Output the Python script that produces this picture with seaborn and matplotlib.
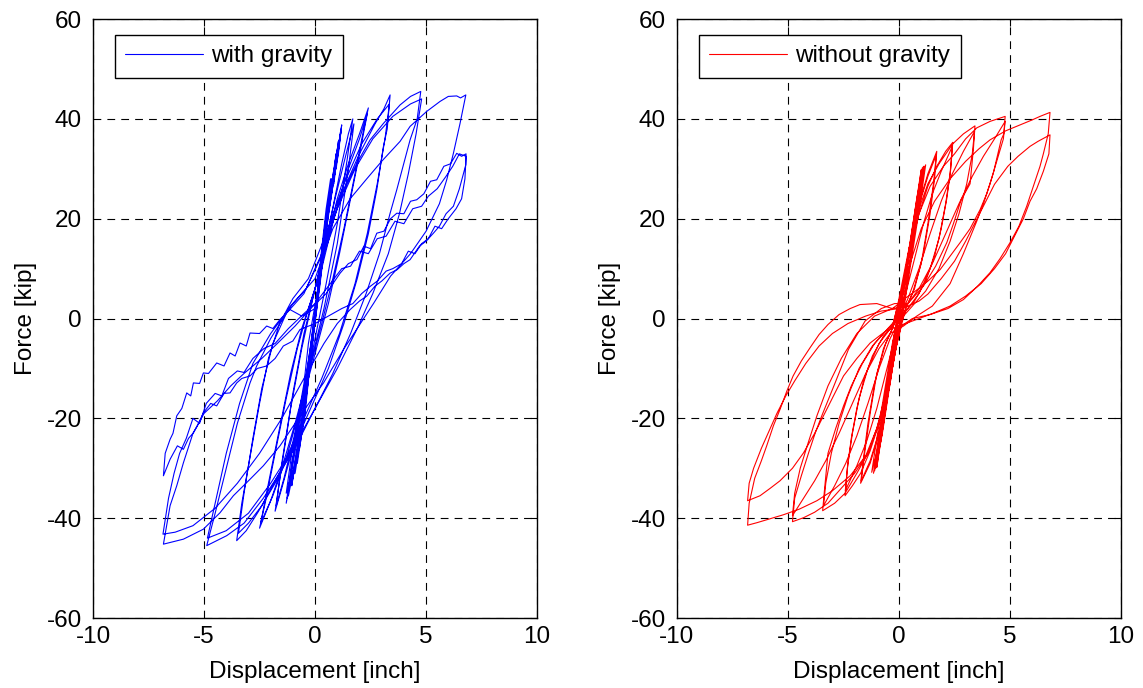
import numpy as np
import pandas as pd
import matplotlib
matplotlib.use("Agg")
import matplotlib.pyplot as plt
import seaborn as sns

# Hysteresis vertices: (displacement [inch], force [kip])
# --- with gravity (blue) ---
GRAV_ELASTIC = [
    (0, 0), (0.25, 12), (0.5, 22), (0.7, 28), (0.8, 27), (0.95, 33), (0.75, 26), (0.4, 17),
    (0.1, 5), (-0.2, -8), (-0.45, -19), (-0.7, -26), (-0.75, -25), (-0.95, -31), (-0.75, -25),
    (-0.35, -14), (-0.05, -2),
    (0.2, 9), (0.45, 19), (0.75, 28), (0.85, 27), (1.05, 35.5), (0.85, 29), (0.5, 19), (0.15, 6),
    (-0.2, -8), (-0.5, -20), (-0.8, -29), (-0.85, -28), (-1.05, -33.5), (-0.85, -27),
    (-0.4, -15), (-0.05, -1),
    (0.25, 11), (0.55, 21), (0.85, 30), (0.9, 29), (1.15, 37.5), (0.95, 31), (0.55, 20),
    (0.2, 7), (-0.2, -7), (-0.55, -21), (-0.9, -31), (-0.95, -30), (-1.2, -35.5), (-0.95, -28),
    (-0.45, -15), (-0.1, -2),
    (0.25, 10), (0.6, 22), (0.9, 31), (0.95, 30), (1.2, 38.8), (1.0, 32), (0.6, 21), (0.2, 6),
    (-0.25, -9), (-0.6, -22), (-1.0, -32), (-1.05, -31), (-1.3, -37), (-1.05, -29), (-0.5, -15),
    (-0.1, -2),
    (0.3, 12), (0.65, 24), (0.95, 33), (1.0, 31.5), (1.1, 36), (0.9, 30), (0.5, 18), (0.15, 5),
    (-0.3, -11), (-0.65, -23), (-1.0, -31), (-1.05, -30.5), (-1.25, -36), (-1.0, -28),
    (-0.5, -14), (0, 0),
    (0.3, 11), (0.7, 25), (1.0, 34), (1.05, 33), (1.18, 38), (0.95, 31), (0.55, 19), (0.1, 3),
    (-0.3, -12), (-0.7, -25), (-1.05, -33), (-1.1, -32), (-1.3, -35), (-1.05, -27), (-0.5, -13),
    (-0.3, -5),
]
GRAV_CYC_SMALL = [
    (0.2, 8), (0.7, 20), (1.2, 31), (1.5, 37), (1.7, 40), (1.45, 32), (1.0, 19), (0.5, 7),
    (0.0, -4), (-0.5, -15), (-1.0, -26), (-1.5, -34), (-1.8, -38.6), (-1.55, -31), (-1.1, -18),
    (-0.6, -6), (-0.1, 4),
    (0.4, 14), (0.9, 24), (1.4, 33), (1.75, 39), (1.5, 30), (1.0, 15), (0.4, 2), (-0.2, -9),
    (-0.8, -21), (-1.4, -32), (-1.75, -37.5), (-1.5, -29), (-1.0, -15), (-0.5, -3), (0.0, 6),
    (0.5, 15), (1.0, 24), (1.5, 31), (2.0, 37), (2.4, 42.2), (2.15, 37), (1.8, 29), (1.3, 18),
    (0.8, 8), (0.3, -1), (-0.3, -11), (-0.9, -21), (-1.5, -30), (-2.0, -36.5), (-2.5, -42),
    (-2.2, -36), (-1.8, -27), (-1.3, -16), (-0.8, -6), (-0.3, 2),
    (0.3, 10), (0.9, 21), (1.5, 30), (2.0, 36), (2.35, 41), (2.05, 34), (1.6, 24), (1.1, 13),
    (0.6, 3), (0.0, -7), (-0.6, -17), (-1.3, -28), (-1.9, -35.5), (-2.45, -41), (-2.1, -33),
    (-1.6, -22), (-1.1, -11), (-0.6, -2), (0.0, 6),
]
GRAV_CYC_34 = [
    (0.5, 15), (1.2, 25), (2.0, 33), (2.7, 39), (3.1, 42), (3.38, 44.8), (3.25, 38), (3.08, 34.5),
    (2.78, 25.8), (2.4, 17), (1.9, 8), (1.3, -1), (0.6, -10), (-0.2, -18), (-1.0, -26),
    (-1.8, -33), (-2.6, -39), (-3.1, -42.5), (-3.53, -44.5), (-3.3, -37), (-2.9, -27),
    (-2.5, -17), (-2.1, -8), (-1.6, -1), (-1.0, 4),
    (-0.3, 8), (0.5, 17), (1.3, 27), (2.1, 35), (2.8, 40), (3.35, 43), (3.15, 36), (2.8, 27),
    (2.35, 17), (1.8, 7), (1.1, -3), (0.3, -12), (-0.6, -21), (-1.5, -30), (-2.4, -37.5),
    (-3.0, -41), (-3.45, -43), (-3.2, -35), (-2.8, -24), (-2.4, -14), (-1.9, -5), (-1.2, 2),
]
GRAV_CYC_48 = [
    (-0.4, 6), (0.23, 12), (0.83, 20), (1.28, 25.5), (1.88, 31.1), (2.48, 35.8), (3.08, 39.1),
    (3.83, 42.8), (4.3, 44.5), (4.76, 45.5), (4.6, 40), (4.28, 35.8), (3.68, 25.8), (3.38, 21.1),
    (2.9, 13), (2.3, 5), (1.6, -3), (0.8, -11), (0.0, -18), (-0.8, -25), (-1.6, -31),
    (-2.33, -36), (-3.2, -41), (-3.98, -43.5), (-4.88, -45.5), (-4.5, -39), (-4.0, -30),
    (-3.5, -21), (-2.93, -12.9), (-2.63, -9.5), (-2.0, -4), (-1.3, 1), (-0.5, 5),
    (0.3, 13), (1.0, 22), (1.8, 30), (2.6, 36), (3.5, 40.5), (4.3, 43), (4.8, 44), (4.55, 37),
    (4.2, 29), (3.8, 21), (3.3, 13), (2.6, 5), (1.9, -2), (1.0, -10), (0.0, -18), (-1.0, -26),
    (-2.0, -33), (-3.0, -39), (-4.0, -42.5), (-4.85, -44), (-4.5, -37), (-4.0, -27),
    (-3.4, -17), (-2.8, -9), (-2.0, -3), (-1.0, 3), (0.0, 8),
]
GRAV_CYC_68 = [
    (0.8, 18), (1.58, 24), (2.33, 28), (3.0, 31.5), (3.83, 35.5), (4.28, 38.5), (5.03, 41.5),
    (5.63, 43.5), (6.0, 44.5), (6.38, 44.6), (6.55, 44.2), (6.79, 44.8), (6.53, 39.1),
    (6.23, 33.1), (5.93, 27.8), (5.6, 23), (5.0, 17.5), (4.3, 13), (3.4, 8.5), (2.63, 3),
    (1.28, -6.2), (0.38, -12.9), (-0.6, -19), (-1.58, -25.5), (-2.33, -29.5), (-2.93, -32.2),
    (-3.68, -35.5), (-4.28, -38.9), (-5.03, -42.2), (-5.93, -44.2), (-6.83, -45.2),
    (-6.53, -37.5), (-6.23, -33.5), (-5.93, -28.9), (-5.5, -23), (-5.0, -19), (-4.4, -16.5),
    (-3.8, -13.5), (-3.2, -11), (-2.4, -8), (-1.7, -5), (-0.9, -1.5), (-0.2, 2),
    # second cycle, softened
    (0.5, 5), (1.13, 9.1), (1.5, 11), (1.88, 11.8), (2.2, 14.5), (2.5, 14), (2.78, 17.1),
    (3.1, 17.5), (3.4, 20), (3.68, 21.1), (4.0, 21), (4.3, 23.5), (4.58, 23.8), (4.9, 25),
    (5.2, 27.5), (5.48, 27.8), (5.8, 30.5), (6.1, 31), (6.38, 33.1), (6.6, 32.5), (6.8, 33),
    (6.79, 30.8), (6.5, 26), (6.23, 22.5), (5.9, 21), (5.6, 18.5), (5.33, 17.1), (5.0, 15.5),
    (4.7, 14.5), (4.28, 11.8), (4.0, 11), (3.7, 9.8), (3.38, 9.1), (3.0, 7.5), (2.7, 6.5),
    (2.33, 4.5), (2.0, 3.5), (1.58, 1.8), (1.0, -1), (0.4, -5), (-0.5, -12), (-1.5, -20),
    (-2.5, -27), (-3.5, -33), (-4.5, -38), (-5.5, -41.5), (-6.3, -42.8), (-6.85, -43.2),
    (-6.6, -36), (-6.35, -31), (-6.1, -27), (-5.8, -24), (-5.5, -20), (-5.2, -21), (-4.9, -17),
    (-4.5, -15), (-4.2, -15.5), (-3.9, -12), (-3.5, -10.5), (-3.2, -10.8), (-2.8, -8),
    (-2.3, -6), (-1.8, -5), (-1.2, -2), (-0.5, 1), (0.0, 3),
    # third cycle
    (0.6, 6.5), (1.2, 10), (1.6, 10.5), (2.0, 13.5), (2.4, 13), (2.8, 16), (3.2, 16.5),
    (3.6, 19.5), (4.0, 19), (4.4, 22), (4.8, 22.5), (5.1, 24.5), (5.5, 26), (5.9, 28.5),
    (6.2, 30.5), (6.5, 33), (6.8, 32.5), (6.75, 28), (6.6, 24), (6.35, 22), (6.0, 20),
    (5.7, 18), (5.4, 18.5), (5.1, 16), (4.8, 15), (4.5, 13), (4.2, 13.5), (3.9, 11), (3.5, 10),
    (3.2, 9.5), (2.8, 7.5), (2.5, 6.5), (2.1, 5), (1.7, 3), (1.2, 2), (0.6, 0.5), (0.0, -1),
    (-0.68, -2.2), (-1.0, -4.5), (-1.43, -5.5), (-1.8, -8), (-2.18, -9.5), (-2.6, -10),
    (-2.93, -11.5), (-3.3, -12), (-3.53, -12.9), (-3.83, -14.9), (-4.1, -15), (-4.43, -17.5),
    (-4.7, -17), (-5.03, -18.9), (-5.3, -21.5), (-5.48, -22.9), (-5.7, -24), (-5.93, -26.2),
    (-6.2, -25.5), (-6.53, -28.2), (-6.83, -31.5), (-6.75, -27), (-6.53, -24.2), (-6.4, -23),
    (-6.23, -19.5), (-6.0, -18), (-5.78, -14.9), (-5.6, -15.5), (-5.48, -12.9), (-5.2, -13),
    (-5.03, -10.9), (-4.8, -11), (-4.43, -8.9), (-4.1, -9.5), (-3.83, -6.9), (-3.6, -7.5),
    (-3.38, -4.9), (-3.1, -5.5), (-2.93, -2.9), (-2.5, -3), (-2.18, -1.5), (-1.9, -2),
    (-1.58, -0.2), (-1.13, 1.8), (-0.6, 0.5), (0.0, 2),
]

# --- without gravity (red) ---
NOGRAV_ELASTIC = [
    (0, 0), (0.5, 15), (0.8, 24), (1.0, 29.8), (0.8, 23), (0.2, 4), (-0.3, -9), (-0.7, -21),
    (-1.0, -29.8), (-0.8, -23), (-0.2, -4),
    (0.1, 3), (0.6, 17), (0.9, 26), (1.1, 30.5), (0.9, 24), (0.3, 5), (-0.35, -11), (-0.8, -24),
    (-1.1, -30.5), (-0.9, -24), (-0.25, -5),
    (0.05, 2), (0.55, 16), (0.95, 27), (1.2, 30.8), (0.95, 23), (0.25, 3), (-0.4, -12),
    (-0.9, -25), (-1.23, -30.8), (-1.0, -24), (-0.3, -5),
    (0.1, 3), (0.45, 14), (0.8, 24), (1.05, 30.2), (0.85, 23), (0.3, 5), (-0.3, -10),
    (-0.75, -23), (-1.05, -30), (-0.85, -23), (-0.25, -4),
    (0.1, 4), (0.5, 15), (0.85, 25), (1.15, 30.5), (0.9, 23), (0.25, 4), (-0.35, -11),
    (-0.85, -25), (-1.15, -31), (-0.9, -23), (-0.2, -3),
]
NOGRAV_CYC_SMALL = [
    (0.1, 5), (0.5, 15), (0.9, 23), (1.3, 29), (1.7, 33.5), (1.6, 28), (1.4, 21), (1.1, 13),
    (0.7, 6), (0.3, 2), (-0.1, -5), (-0.5, -15), (-0.9, -23), (-1.3, -29), (-1.73, -33),
    (-1.6, -28), (-1.4, -21), (-1.1, -13), (-0.7, -6), (-0.3, -2),
    (0.0, 4), (0.4, 13), (0.85, 22), (1.3, 28.5), (1.68, 32.8), (1.55, 27), (1.3, 19), (1.0, 11),
    (0.6, 5), (0.2, 1), (-0.1, -4), (-0.4, -13), (-0.85, -22), (-1.3, -28.5), (-1.7, -32.5),
    (-1.55, -27), (-1.3, -19), (-1.0, -11), (-0.6, -5), (-0.2, -1),
    (0.2, 7), (0.5, 14), (0.9, 21), (1.3, 26.5), (1.7, 30.5), (2.1, 33.5), (2.42, 35.3),
    (2.33, 30), (2.15, 24), (1.9, 18), (1.6, 12.5), (1.2, 7.5), (0.7, 3.5), (0.2, 1),
    (-0.2, -6), (-0.5, -14), (-0.9, -21), (-1.3, -26.5), (-1.73, -31), (-2.1, -33.5),
    (-2.43, -35.5), (-2.33, -30), (-2.15, -24), (-1.9, -18), (-1.6, -12.5), (-1.2, -7.5),
    (-0.7, -3.5), (-0.2, -1),
    (0.3, 5), (0.7, 12), (1.1, 19), (1.5, 25), (1.9, 29.5), (2.4, 34.5), (2.3, 29), (2.1, 23),
    (1.8, 16), (1.4, 10), (0.9, 5), (0.3, 1.5), (-0.2, -4), (-0.6, -11), (-1.0, -18),
    (-1.45, -24.5), (-1.9, -29.5), (-2.42, -34.5), (-2.3, -29), (-2.1, -23), (-1.8, -16),
    (-1.4, -10), (-0.9, -5), (-0.3, -1.5),
]
NOGRAV_CYC_34 = [
    (0.2, 7), (0.5, 15), (0.9, 22), (1.3, 27), (1.8, 31), (2.42, 35), (2.9, 37), (3.42, 38.6),
    (3.35, 34), (3.2, 27), (2.8, 23.8), (2.45, 19), (2.15, 15.2), (1.65, 10.5), (1.1, 6.5),
    (0.5, 3.5), (0.0, 1), (-0.3, -7), (-0.6, -15), (-1.0, -22), (-1.4, -27), (-1.9, -31),
    (-2.43, -35), (-2.9, -37), (-3.44, -38.5), (-3.35, -34), (-3.2, -27), (-2.85, -22),
    (-2.5, -17.5), (-2.15, -13.5), (-1.65, -9), (-1.1, -5), (-0.5, -2), (0.0, 0),
    (0.4, 4), (0.9, 10), (1.4, 17), (1.9, 23.5), (2.4, 29), (2.9, 33.5), (3.4, 37.5), (3.3, 33),
    (3.05, 27), (2.7, 21), (2.3, 15.5), (1.8, 10), (1.2, 5.5), (0.5, 2), (0.0, -0.5),
    (-0.4, -4), (-0.9, -10), (-1.4, -17), (-1.9, -23.5), (-2.4, -29), (-2.9, -33.5),
    (-3.4, -37.5), (-3.3, -33), (-3.05, -27), (-2.7, -21), (-2.3, -15.5), (-1.8, -10),
    (-1.2, -5.5), (-0.5, -2), (0.0, 0.5),
]
NOGRAV_CYC_48 = [
    (0.2, 6), (0.5, 14), (0.9, 21), (1.4, 26.5), (2.0, 30.5), (2.5, 33), (3.0, 36), (3.5, 38.2),
    (4.1, 39.5), (4.78, 40.5), (4.72, 37), (4.6, 35.8), (4.25, 29.2), (3.95, 25), (3.65, 21.8),
    (3.2, 18), (2.75, 15.2), (2.3, 12.5), (1.85, 9.8), (1.3, 7.5), (0.65, 5.2), (0.1, 3.5),
    (-0.2, -5), (-0.5, -13), (-0.9, -21), (-1.4, -27), (-2.0, -31), (-2.6, -34), (-3.2, -37),
    (-3.8, -38.8), (-4.3, -39.9), (-4.8, -40.7), (-4.7, -36), (-4.4, -31.5), (-4.08, -27),
    (-3.78, -23), (-3.48, -19.5), (-2.88, -12.9), (-2.28, -6.2), (-1.53, -0.5), (-0.8, 2),
    (-0.2, 3),
    (0.4, 3), (0.9, 6), (1.5, 11), (2.1, 17), (2.7, 23), (3.3, 28.5), (3.8, 32.5), (4.3, 36),
    (4.78, 39.5), (4.7, 36), (4.4, 31.5), (4.1, 27), (3.8, 23), (3.5, 19.5), (2.9, 13),
    (2.3, 7), (1.5, 2.5), (0.8, 0.5), (0.2, -1.5), (-0.4, -3), (-0.9, -6), (-1.5, -11),
    (-2.1, -17), (-2.7, -23), (-3.3, -28.5), (-3.8, -32.5), (-4.3, -36), (-4.8, -39.5),
    (-4.7, -35), (-4.45, -30), (-4.1, -25), (-3.7, -19.5), (-3.2, -13.5), (-2.6, -8),
    (-1.9, -3), (-1.1, 0.5), (-0.3, 2),
]
NOGRAV_CYC_68 = [
    (0.0, 3), (0.5, 11), (1.0, 18), (1.6, 23.5), (2.3, 28), (3.0, 31.5), (3.6, 34), (4.1, 35.8),
    (4.8, 37.6), (5.45, 38.8), (6.0, 39.8), (6.35, 40.5), (6.8, 41.3), (6.72, 37), (6.5, 33),
    (6.35, 30.5), (6.05, 26.5), (5.75, 22.5), (5.4, 18.5), (5.0, 15.2), (4.55, 12), (4.1, 9.2),
    (3.5, 6.3), (2.9, 3.8), (2.2, 2), (1.4, 0.8), (0.6, 0), (0.1, -1.5), (-0.3, -9),
    (-0.6, -16), (-1.0, -22), (-1.5, -27.5), (-2.2, -31.5), (-3.0, -34.5), (-3.7, -36.5),
    (-4.5, -38.2), (-5.2, -39.3), (-5.88, -40.2), (-6.4, -40.9), (-6.82, -41.4), (-6.75, -37),
    (-6.5, -32), (-6.2, -28.5), (-5.96, -25.5), (-5.66, -21.5), (-5.36, -18.2), (-5.05, -14.5),
    (-4.77, -11.5), (-4.4, -8.5), (-4.0, -5.8), (-3.6, -3.2), (-3.2, -1.2), (-2.7, 0.8),
    (-2.2, 2.0), (-1.76, 2.8), (-1.0, 3), (-0.3, 2),
    (0.4, 2.5), (0.9, 3.5), (1.3, 4.9), (1.9, 8), (2.5, 11.5), (3.0, 15.5), (3.65, 21.2),
    (4.3, 26.9), (4.9, 30.5), (5.36, 32.5), (5.9, 34.5), (6.26, 35.5), (6.8, 36.8), (6.75, 33),
    (6.5, 29.5), (6.2, 26), (5.9, 23.5), (5.6, 20), (5.2, 16.5), (4.8, 13), (4.3, 10), (3.7, 7),
    (3.0, 4.5), (2.3, 2.5), (1.5, 1), (0.6, -0.5), (0.0, -1.5), (-0.6, -2.5), (-1.3, -4.9),
    (-1.9, -8), (-2.5, -11.5), (-3.26, -18.2), (-3.8, -23), (-4.3, -26.9), (-4.8, -30),
    (-5.36, -32.5), (-5.8, -34), (-6.26, -35.5), (-6.82, -36.5), (-6.75, -33), (-6.55, -30),
    (-6.2, -26), (-5.9, -23), (-5.5, -19), (-5.1, -15.5), (-4.7, -12.5), (-4.2, -9),
    (-3.6, -5.5), (-3.0, -3), (-2.3, -1), (-1.5, 0.5), (-0.8, 1.5), (0.0, 2),
]

X_TICKS = [-10, -5, 0, 5, 10]
Y_TICKS = [-60, -40, -20, 0, 20, 40, 60]
FS = 17.5


def to_frame(*cycles):
    pts = [p for c in cycles for p in c]
    return pd.DataFrame(pts, columns=["disp", "force"])


def style_axes(ax):
    ax.set_xlim(-10, 10)
    ax.set_ylim(-60, 60)
    ax.set_xticks(X_TICKS)
    ax.set_yticks(Y_TICKS)
    ax.grid(True, color="black", linestyle=(0, (7, 5.5)), linewidth=0.8)
    ax.set_axisbelow(True)
    ax.tick_params(direction="in", top=True, right=True, length=5, width=0.8,
                   labelsize=FS, colors="black")
    ax.tick_params(axis="y", pad=8)
    ax.tick_params(axis="x", pad=6)
    for s in ax.spines.values():
        s.set_visible(True)
        s.set_color("black")
        s.set_linewidth(1.0)
    ax.set_xlabel("Displacement [inch]", fontsize=FS, labelpad=9, color="black")
    ax.set_ylabel("Force [kip]", fontsize=FS, labelpad=7, color="black")


sns.set_style("white")
plt.rcParams["font.family"] = ["Liberation Sans", "DejaVu Sans"]
plt.rcParams["axes.unicode_minus"] = False
plt.rcParams["text.color"] = "black"
plt.rcParams["axes.labelcolor"] = "black"
plt.rcParams["xtick.color"] = "black"
plt.rcParams["ytick.color"] = "black"

fig = plt.figure(figsize=(11.43, 6.88), dpi=100)
ax1 = fig.add_axes([0.0814, 0.1017, 0.3885, 0.8706])
ax2 = fig.add_axes([0.5923, 0.1017, 0.3885, 0.8706])

grav = to_frame(GRAV_ELASTIC, GRAV_CYC_SMALL, GRAV_CYC_34, GRAV_CYC_48, GRAV_CYC_68)
nograv = to_frame(NOGRAV_ELASTIC, NOGRAV_CYC_SMALL, NOGRAV_CYC_34, NOGRAV_CYC_48, NOGRAV_CYC_68)

sns.lineplot(data=grav, x="disp", y="force", sort=False, estimator=None,
             color="#0000ff", linewidth=0.8, ax=ax1, label="with gravity")
sns.lineplot(data=nograv, x="disp", y="force", sort=False, estimator=None,
             color="#ff0000", linewidth=0.8, ax=ax2, label="without gravity")

for ax in (ax1, ax2):
    style_axes(ax)
    leg = ax.legend(loc="upper left", bbox_to_anchor=(0.0495, 0.973), borderaxespad=0,
                    fontsize=FS, handlelength=3.2, handletextpad=0.35, borderpad=0.42,
                    fancybox=False, framealpha=1, edgecolor="black")
    leg.get_frame().set_linewidth(1.0)
    for t in leg.get_texts():
        t.set_color("black")

fig.savefig("out.png", dpi=100)
